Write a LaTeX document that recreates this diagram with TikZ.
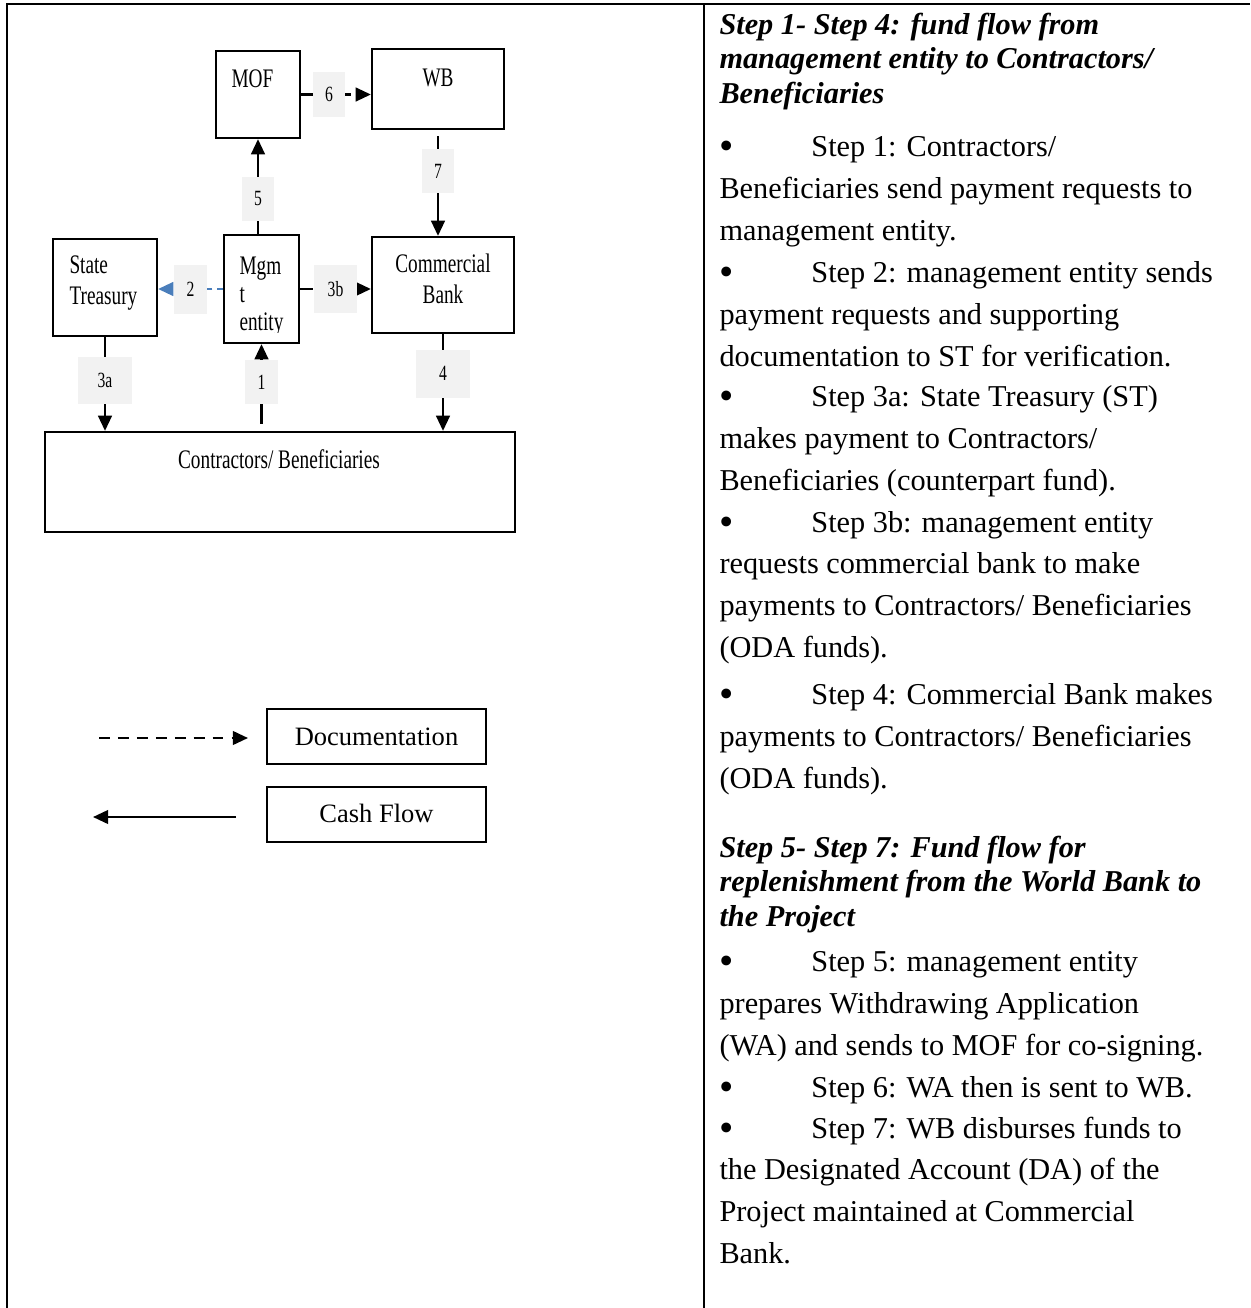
\documentclass[tikz,border=0pt]{standalone}
\usepackage{fontspec}
\setmainfont{Liberation Serif}
\usepackage{graphicx}
\usetikzlibrary{arrows.meta}
\usetikzlibrary{fit}

\definecolor{lblgray}{HTML}{F2F2F2}
\definecolor{docblue}{HTML}{4A7EBB}
\newcommand{\squeeze}[1]{\scalebox{0.72}[1]{#1}}
\newcommand{\bul}{\makebox[36.4pt][l]{\raisebox{-0.1em}{\scalebox{1.35}{•}}}}

\tikzset{
	frame/.style={line width=0.8pt},
	box/.style={draw, line width=0.9pt, inner sep=0pt},
	boxtext/.style={inner sep=0pt, font=\fontsize{10.6}{12.2}\selectfont},
	legtext/.style={inner sep=0pt, font=\fontsize{10.5}{12}\selectfont},
	steplbl/.style={fill=lblgray, text=black, inner sep=0pt, minimum width=12.7pt, minimum height=17.5pt, font=\fontsize{8.6}{10}\selectfont},
	cash/.style={line width=0.9pt, -{Triangle[length=6pt,width=5.4pt]}},
	doc/.style={cash, dash pattern=on 5pt off 2.4pt},
	docb/.style={cash, docblue, dash pattern=on 2.2pt off 2pt},
	% base anchor of a several-line node sits on its last line
	head/.style={anchor=base west, inner sep=0pt, align=left, font=\bfseries\itshape\fontsize{12}{13.6}\selectfont},
	item/.style={anchor=base west, inner sep=0pt, align=left, font=\fontsize{12}{16.5}\selectfont}
}

\begin{document}
\begin{tikzpicture}[x=0.396pt, y=-0.396pt]
	\useasboundingbox (0,0) rectangle (1250,1308);

	% table frame
	\draw[frame] (7,1308) -- (7,4) -- (1250,4);
	\draw[frame] (704,4) -- (704,1308);

	% boxes
	\node[box, fit={(216,51) (300,138)}] (mof) {};
	\node[box, fit={(372,49) (504,129)}] (wb) {};
	\node[box, fit={(53,239) (157,336)}] (st) {};
	\node[box, fit={(224,235) (299,343)}] (mgmt) {};
	\node[box, fit={(372,237) (514,333)}] (cb) {};
	\node[box, fit={(45,432) (515,532)}] (contr) {};

	\node[boxtext, anchor=base west] (mof-t) at (231,87) {\squeeze{MOF}};
	\node[boxtext, anchor=base west] (wb-t) at (422,86) {\squeeze{WB}};
	\node[boxtext, anchor=base west, align=left] (st-t) at (69,304) {\squeeze{State}\\\squeeze{Treasury}};
	\begin{scope}
		\clip (224,235) rectangle (299,332);
		\node[boxtext, anchor=base west, align=left, font=\fontsize{10.6}{10.9}\selectfont] (mgmt-t) at (239,330) {\squeeze{Mgm}\\\squeeze{t}\\\squeeze{entity}};
	\end{scope}
	\node[boxtext, anchor=base, align=center] (cb-t) at (443,303) {\squeeze{Commercial}\\\squeeze{Bank}};
	\node[boxtext, anchor=base] (contr-t) at (279,468) {\squeeze{Contractors/ Beneficiaries}};

	% flows
	\draw[doc] (mof.east) -- (mof.east -| wb.west) node[steplbl, pos=0.4] (l6) {\squeeze{6}};
	\draw[cash] (mgmt.north -| mof.south) -- (mof.south) node[steplbl, pos=0.37] (l5) {\squeeze{5}};
	\draw[cash, shorten <=2.4pt] (wb.south) -- (wb.south |- cb.north) node[steplbl, pos=0.39] (l7) {\squeeze{7}};
	\draw[docb] (mgmt.west) -- (mgmt.west -| st.east) node[steplbl, midway, minimum height=19.4pt] (l2) {\squeeze{2}};
	\draw[doc] (mgmt.east) -- (mgmt.east -| cb.west) node[steplbl, midway, minimum width=17.4pt, minimum height=19pt] (l3b) {\squeeze{3b}};
	\draw[cash] (st.south) -- (st.south |- contr.north) node[steplbl, pos=0.46, minimum width=21.4pt, minimum height=18.6pt] (l3a) {\squeeze{3a}};
	\draw[cash, shorten <=2.8pt] (mgmt.south |- contr.north) -- (mgmt.south) node[steplbl, pos=0.56] (l1) {\squeeze{1}};
	\draw[cash] (cb.south) -- (cb.south |- contr.north) node[steplbl, pos=0.41, minimum width=21.4pt, minimum height=19pt] (l4) {\squeeze{4}};

	% legend
	\coordinate (docA) at (99,738);
	\coordinate (docB) at (248,738);
	\draw[doc, dash pattern=on 4.3pt off 3.2pt] (docA) -- (docB);
	\node[box, fit={(267,709) (486,764)}] (docbox) {};
	\node[legtext, anchor=base] (docbox-t) at (376.5,745) {Documentation};
	\coordinate (cashA) at (236,817);
	\coordinate (cashB) at (93,817);
	\draw[cash] (cashA) -- (cashB);
	\node[box, fit={(267,787) (486,842)}] (cashbox) {};
	\node[legtext, anchor=base] (cashbox-t) at (376.5,822) {Cash Flow};

	% steps
	\node[head] (h1) at (719,103) {Step 1- Step 4: fund flow from\\management entity to Contractors/\\Beneficiaries};
	\node[item] (s1) at (719,240) {\bul Step 1: Contractors/\\Beneficiaries send payment requests to\\management entity.};
	\node[item] (s2) at (719,366) {\bul Step 2: management entity sends\\payment requests and supporting\\documentation to ST for verification.};
	\node[item] (s3a) at (719,490) {\bul Step 3a: State Treasury (ST)\\makes payment to Contractors/\\Beneficiaries (counterpart fund).};
	\node[item] (s3b) at (719,657) {\bul Step 3b: management entity\\requests commercial bank to make\\payments to Contractors/ Beneficiaries\\(ODA funds).};
	\node[item] (s4) at (719,788) {\bul Step 4: Commercial Bank makes\\payments to Contractors/ Beneficiaries\\(ODA funds).};
	\node[head] (h2) at (719,926) {Step 5- Step 7: Fund flow for\\replenishment from the World Bank to\\the Project};
	\node[item] (s5) at (719,1055) {\bul Step 5: management entity\\prepares Withdrawing Application\\(WA) and sends to MOF for co-signing.};
	\node[item] (s6) at (719,1097) {\bul Step 6: WA then is sent to WB.};
	\node[item] (s7) at (719,1263) {\bul Step 7: WB disburses funds to\\the Designated Account (DA) of the\\Project maintained at Commercial\\Bank.};
\end{tikzpicture}
\end{document}
